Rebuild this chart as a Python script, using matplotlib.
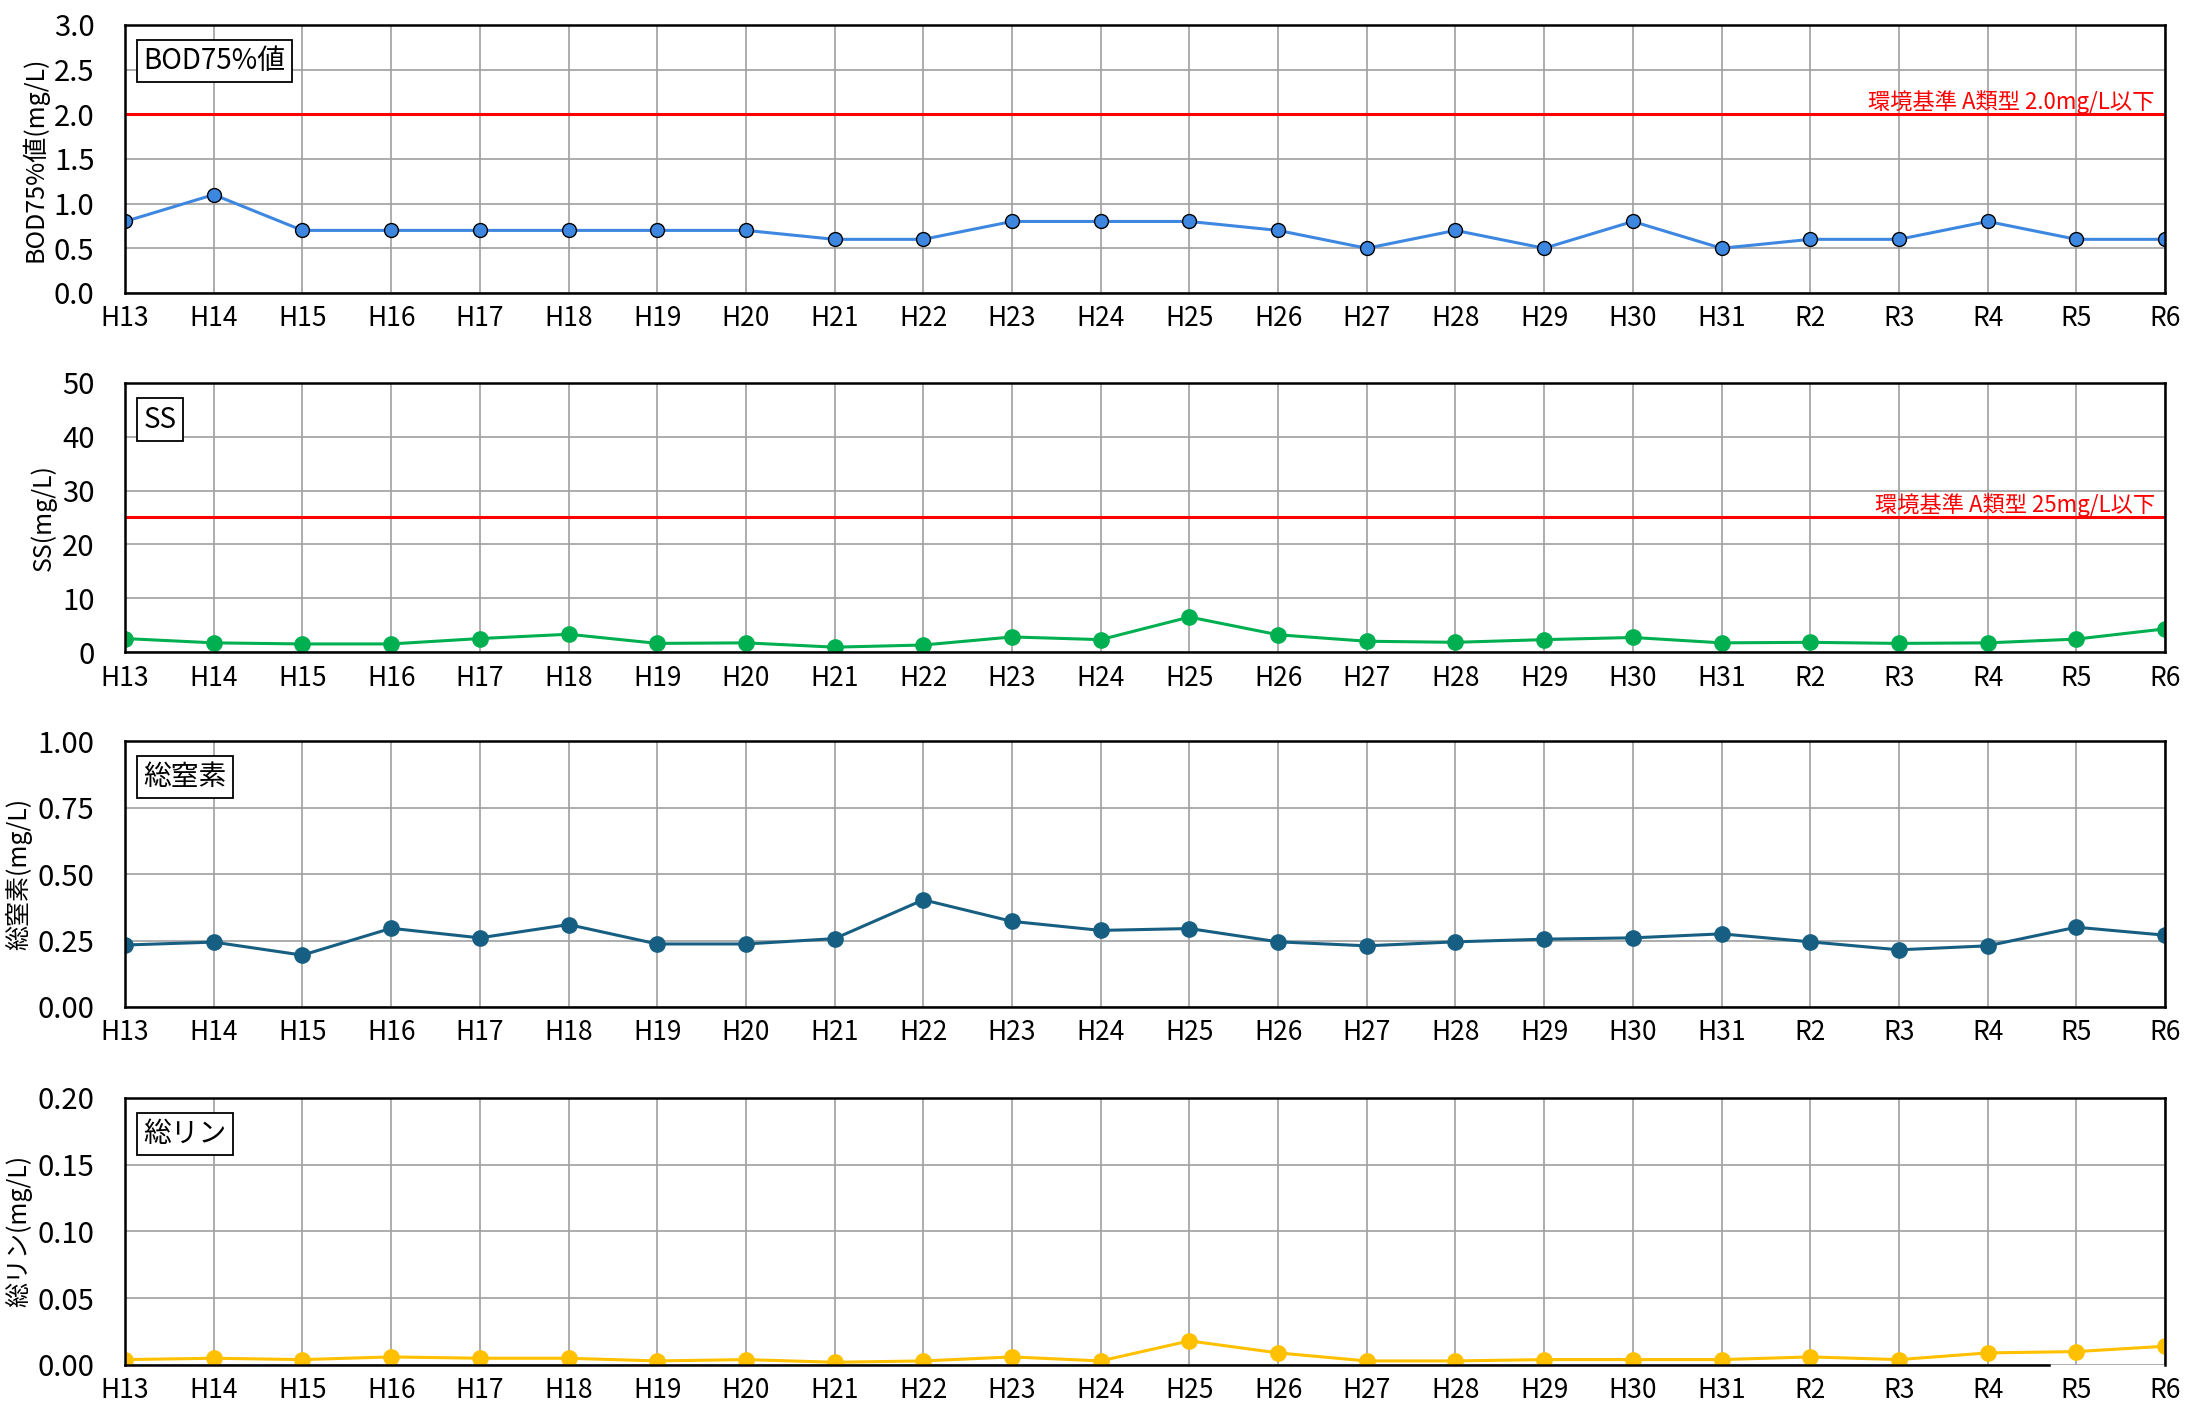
import matplotlib
matplotlib.use('Agg')
import matplotlib.pyplot as plt
import numpy as np

plt.rcParams['font.family'] = ['Noto Sans CJK JP', 'DejaVu Sans']

years = ['H13', 'H14', 'H15', 'H16', 'H17', 'H18', 'H19', 'H20', 'H21', 'H22',
         'H23', 'H24', 'H25', 'H26', 'H27', 'H28', 'H29', 'H30', 'H31',
         'R2', 'R3', 'R4', 'R5', 'R6']

bod = [0.8, 1.1, 0.7, 0.7, 0.7, 0.7, 0.7, 0.7, 0.6, 0.6,
       0.8, 0.8, 0.8, 0.7, 0.5, 0.7, 0.5, 0.8, 0.5,
       0.6, 0.6, 0.8, 0.6, 0.6]
ss = [2.5, 1.7, 1.5, 1.5, 2.5, 3.3, 1.6, 1.7, 0.9, 1.3,
      2.8, 2.3, 6.5, 3.2, 2.0, 1.8, 2.3, 2.7, 1.7,
      1.8, 1.6, 1.7, 2.4, 4.3]
tn = [0.233, 0.244, 0.195, 0.296, 0.26, 0.31, 0.237, 0.237, 0.257, 0.403,
      0.322, 0.288, 0.295, 0.245, 0.23, 0.245, 0.255, 0.26, 0.275,
      0.245, 0.215, 0.23, 0.30, 0.27]
tp = [0.004, 0.005, 0.004, 0.006, 0.005, 0.005, 0.003, 0.004, 0.002, 0.003,
      0.006, 0.003, 0.018, 0.009, 0.003, 0.003, 0.004, 0.004, 0.004,
      0.006, 0.004, 0.009, 0.010, 0.014]

# panel settings: title, ylabel, data, color, yticks, tick format, standard line
panels = [
    ('BOD75%値', 'BOD75%値(mg/L)', bod, '#3d87e0', np.arange(0, 3.01, 0.5), '{:.1f}',
     2.0, '環境基準 A類型 2.0mg/L以下'),
    ('SS', 'SS(mg/L)', ss, '#00b050', np.arange(0, 51, 10), '{:.0f}',
     25, '環境基準 A類型 25mg/L以下'),
    ('総窒素', '総窒素(mg/L)', tn, '#175f82', np.arange(0, 1.01, 0.25), '{:.2f}',
     None, None),
    ('総リン', '総リン(mg/L)', tp, '#ffc000', np.arange(0, 0.201, 0.05), '{:.2f}',
     None, None),
]

# axes boxes in figure fraction [left, bottom, width, height]
boxes = [
    [0.0571, 0.7918, 0.9315, 0.1905],
    [0.0571, 0.5366, 0.9315, 0.1912],
    [0.0571, 0.2843, 0.9315, 0.1890],
    [0.0571, 0.0299, 0.9315, 0.1898],
]

fig = plt.figure(figsize=(21.9, 14.07), dpi=100)
x = np.arange(len(years))

for i, (title, ylabel, vals, color, yticks, fmt, std, std_text) in enumerate(panels):
    ax = fig.add_axes(boxes[i])
    if i == 0:
        ax.plot(x, vals, color=color, lw=2.2, marker='o', markersize=10,
                markerfacecolor=color, markeredgecolor='black', markeredgewidth=1.0, zorder=4)
    else:
        ax.plot(x, vals, color=color, lw=2.2, marker='o', markersize=11,
                markerfacecolor=color, markeredgecolor=color, zorder=4)

    if std is not None:
        ax.axhline(std, color='red', lw=2.2, zorder=3)
        ax.text(0.995, std, std_text, transform=ax.get_yaxis_transform(),
                ha='right', va='bottom', color='red', fontsize=16)

    ax.set_xlim(0, len(years) - 1)
    ax.set_ylim(yticks[0], yticks[-1])
    ax.set_xticks(x)
    ax.set_xticklabels(years, fontsize=19)
    ax.set_yticks(yticks)
    ax.set_yticklabels([fmt.format(v) for v in yticks], fontsize=21)
    ax.tick_params(axis='y', length=0, pad=22)
    ax.tick_params(axis='x', length=0, pad=9)
    ax.grid(True, color='#a0a0a0', lw=1.2)
    ax.set_axisbelow(True)
    for s in ax.spines.values():
        s.set_color('black')
        s.set_linewidth(1.8)
        s.set_zorder(5)
    ax.set_ylabel(ylabel, fontsize=18, labelpad=4)

    ax.text(0.009, 0.92, title, transform=ax.transAxes, ha='left', va='top',
            fontsize=20, zorder=6,
            bbox=dict(boxstyle='square,pad=0.22', facecolor='white',
                      edgecolor='black', linewidth=1.3))

    if i == 3:
        # bottom axis line stops short of the end in the original
        ax.spines['bottom'].set_bounds(0, 21.69)

fig.savefig('out.png', dpi=100)
